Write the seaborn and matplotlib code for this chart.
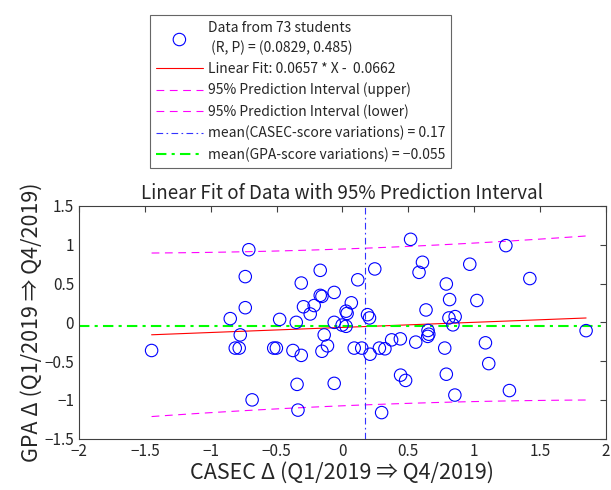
import seaborn as sns
import matplotlib.pyplot as plt
import numpy as np

# CASEC score change and GPA change for each student
casec = [-1.449, -0.852, -0.814, -0.784, -0.776, -0.738, -0.738, -0.711, -0.686, -0.522,
         -0.502, -0.477, -0.376, -0.351, -0.338, -0.345, -0.313, -0.313, -0.296, -0.245,
         -0.215, -0.169, -0.169, -0.156, -0.156, -0.139, -0.114, -0.063, -0.063, -0.063,
         -0.003, 0.027, 0.027, 0.035, 0.067, 0.089, 0.116, 0.146, 0.190, 0.205,
         0.209, 0.245, 0.280, 0.322, 0.297, 0.373, 0.439, 0.441, 0.479, 0.517,
         0.556, 0.581, 0.607, 0.634, 0.649, 0.655, 0.647, 0.776, 0.788, 0.788,
         0.808, 0.813, 0.838, 0.855, 0.853, 0.966, 1.020, 1.085, 1.110, 1.240,
         1.267, 1.422, 1.849]
gpa = [-0.364, 0.047, -0.333, -0.333, -0.163, 0.589, 0.188, 0.936, -1.001, -0.333,
       -0.333, 0.037, -0.364, -0.001, -1.133, -0.801, 0.506, -0.427, 0.200, 0.107,
       0.216, 0.670, 0.347, 0.334, -0.374, -0.163, -0.304, 0.385, -0.001, -0.788,
       -0.036, -0.052, 0.143, 0.114, 0.251, -0.333, 0.548, -0.333, 0.098, 0.056,
       -0.412, 0.688, -0.333, -0.342, -1.165, -0.227, -0.214, -0.682, -0.750, 1.070,
       -0.256, 0.644, 0.774, 0.159, -0.106, -0.154, -0.182, -0.333, 0.494, -0.670,
       0.056, 0.293, -0.033, 0.073, -0.939, 0.749, 0.281, -0.265, -0.533, 0.989,
       -0.881, 0.564, -0.108]

slope = 0.0657
intercept = -0.0662
t_975 = 1.9939  # t(0.975, df=71)

labels = ['Data from 73 students\n (R, P) = (0.0829, 0.485)',
          'Linear Fit: 0.0657 * X -  0.0662',
          '95% Prediction Interval (upper)',
          '95% Prediction Interval (lower)',
          'mean(CASEC-score variations) = 0.17',
          'mean(GPA-score variations) = \u22120.055']

x = np.array(casec)
y = np.array(gpa)
n = len(x)
xs = np.linspace(x.min(), x.max(), 50)
yfit = slope * xs + intercept
resid = y - (slope * x + intercept)
s = np.sqrt(np.sum(resid ** 2) / (n - 2))
sxx = np.sum((x - x.mean()) ** 2)
half = t_975 * s * np.sqrt(1 + 1 / n + (xs - x.mean()) ** 2 / sxx)

sns.set_style('white')
plt.rcParams['font.family'] = ['Noto Sans CJK JP', 'DejaVu Sans']
plt.rcParams['axes.unicode_minus'] = True

fig = plt.figure(figsize=(6.11, 4.9), dpi=100)
ax = fig.add_axes([0.1293, 0.105, 0.8625, 0.4746])

sns.scatterplot(x=x, y=y, ax=ax, marker='o', s=80, facecolors='none',
                edgecolor='#0000ff', linewidth=0.8, label=labels[0], zorder=3)
sns.lineplot(x=xs, y=yfit, ax=ax, color='#ff0000', lw=0.8, label=labels[1])
ax.plot(xs, yfit + half, color='#ff00ff', lw=0.8, ls=(0, (7, 5)), label=labels[2])
ax.plot(xs, yfit - half, color='#ff00ff', lw=0.8, ls=(0, (7, 5)), label=labels[3])
ax.axvline(x.mean(), color='#3333ff', lw=0.8, ls=(0, (6, 3, 1.5, 3)), label=labels[4])
ax.axhline(y.mean(), color='#00ff00', lw=1.5, ls=(0, (5, 2.5, 1.5, 2.5)), label=labels[5])

ax.set_xlim(-2, 2)
ax.set_ylim(-1.5, 1.5)
ax.set_xticks(np.arange(-2, 2.01, 0.5))
ax.set_yticks(np.arange(-1.5, 1.51, 0.5))
ax.set_xticklabels(['\u22122', '\u22121.5', '\u22121', '\u22120.5', '0', '0.5', '1', '1.5', '2'])
ax.set_yticklabels(['\u22121.5', '\u22121', '\u22120.5', '0', '0.5', '1', '1.5'])
ax.tick_params(direction='in', top=True, right=True, length=4, width=0.8,
               color='#404040', labelsize=11)
for sp in ax.spines.values():
    sp.set_color('#404040')
    sp.set_linewidth(0.8)

ax.set_title('Linear Fit of Data with 95% Prediction Interval', fontsize=13.5, pad=5)
ax.set_xlabel('CASEC \u0394 (Q1/2019 \u21d2 Q4/2019)', fontsize=15.5, labelpad=1)
ax.set_ylabel('GPA \u0394 (Q1/2019 \u21d2 Q4/2019)', fontsize=15.5, labelpad=1)

handles, labs = ax.get_legend_handles_labels()
ax.get_legend().remove()
leg = fig.legend(handles, labs, loc='upper center', bbox_to_anchor=(300.5 / 611, 1 - 8 / 490),
                 fontsize=10, frameon=True, fancybox=False, edgecolor='#404040',
                 handlelength=3.4, handletextpad=0.35, labelspacing=0.5, borderpad=0.4)
leg.get_frame().set_linewidth(0.8)
leg.get_texts()[0].set_linespacing(1.5)

plt.savefig('out.png', dpi=100)
